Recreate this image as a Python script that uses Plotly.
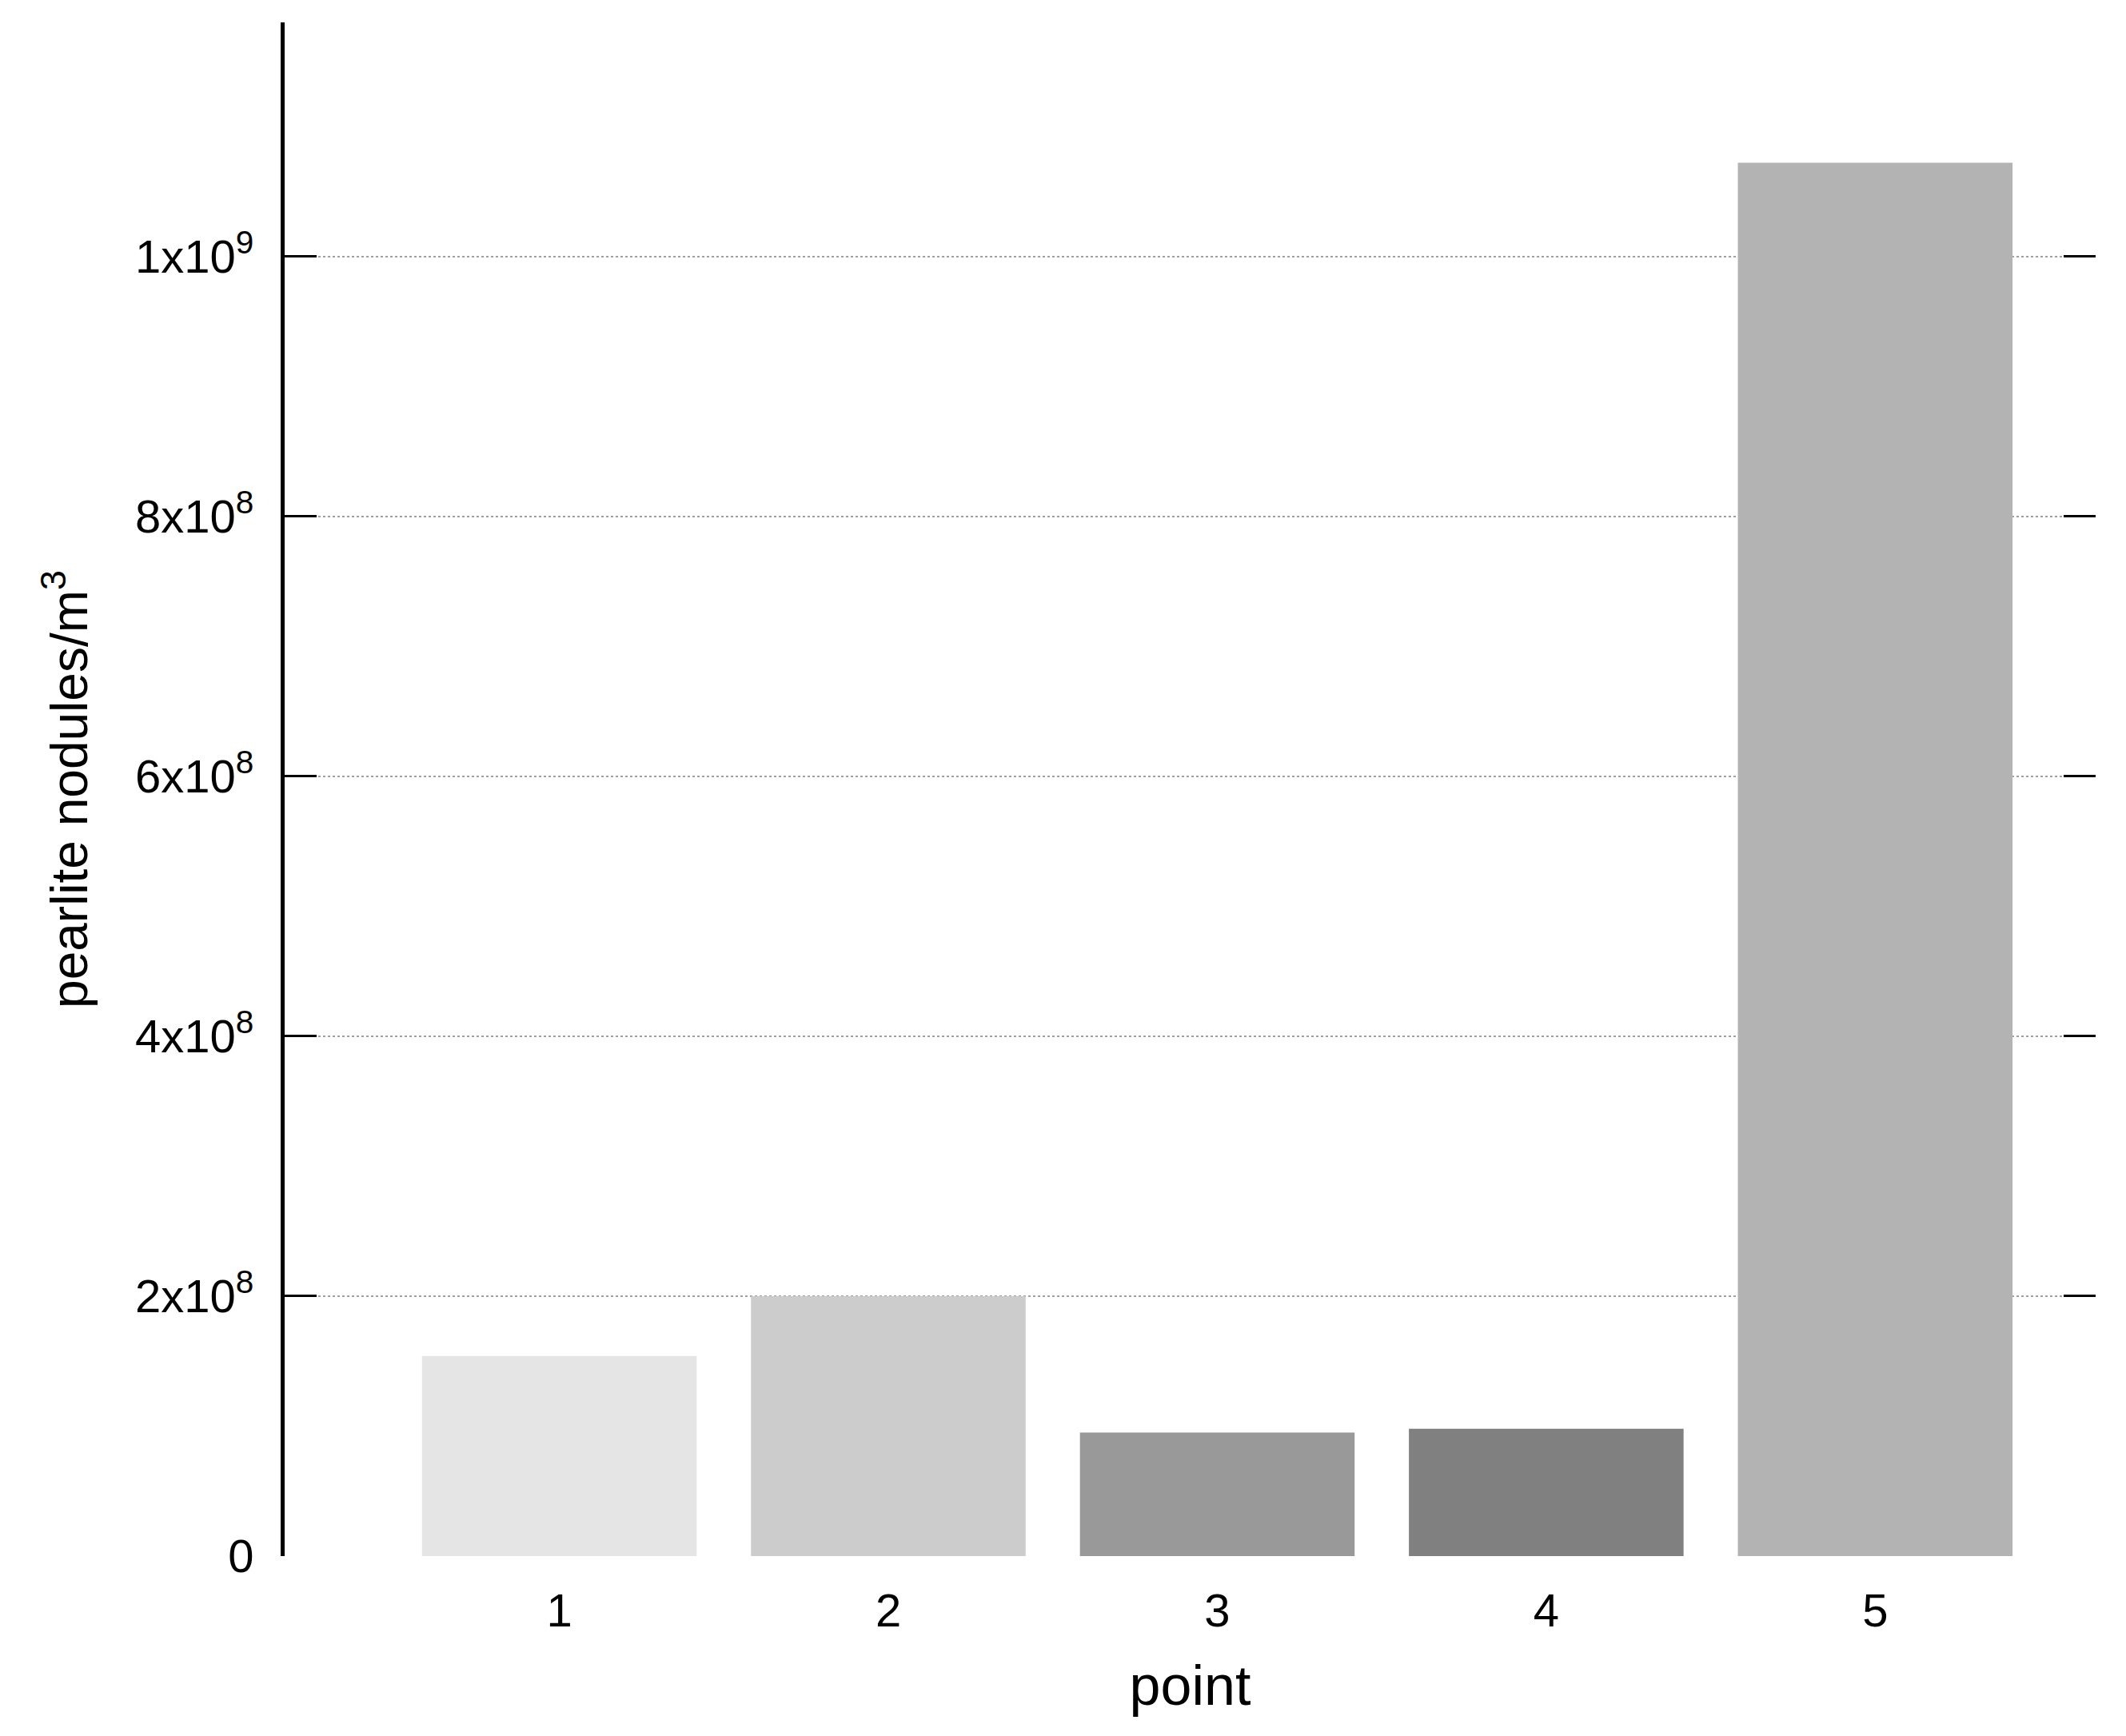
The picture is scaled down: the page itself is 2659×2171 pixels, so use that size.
# 棒グラフ: pearlite nodules per point
import plotly.graph_objects as go

points = [1, 2, 3, 4, 5]
nodules = [1.54e8, 2.0e8, 0.95e8, 0.98e8, 1.072e9]
bar_colors = ['#e5e5e5', '#cccccc', '#999999', '#808080', '#b3b3b3']

y_ticks = [0, 2e8, 4e8, 6e8, 8e8, 1e9]
y_tick_text = ['0', '2x10<sup>8</sup>', '4x10<sup>8</sup>', '6x10<sup>8</sup>',
               '8x10<sup>8</sup>', '1x10<sup>9</sup>']

fig = go.Figure()

fig.add_trace(
    go.Bar(x=points,
           y=nodules,
           width=0.835,
           marker=dict(color=bar_colors, line=dict(width=0)),
           showlegend=False)
)
# 右側の目盛り用（見えないトレース）
fig.add_trace(
    go.Scatter(x=points, y=nodules, yaxis='y2', mode='markers',
               marker=dict(opacity=0), showlegend=False, hoverinfo='skip')
)

font = dict(family='Liberation Sans, Arial, sans-serif', size=58, color='black')

fig.update_layout(
    width=2659, height=2171,
    margin=dict(l=348, r=46, t=20, b=233),
    plot_bgcolor='white', paper_bgcolor='white',
    font=font,
    xaxis=dict(range=[0.165, 5.67], tickvals=points, ticktext=[str(p) for p in points],
               showgrid=False, zeroline=False, showline=False,
               ticks='outside', ticklen=17, tickcolor='rgba(0,0,0,0)',
               title=dict(text='point', standoff=38)),
    yaxis=dict(range=[0, 1.18e9], tickvals=y_ticks, ticktext=y_tick_text,
               showgrid=True, gridcolor='#a0a0a0', gridwidth=2, griddash='dot',
               zeroline=False, showline=True, linecolor='black', linewidth=5,
               ticks='inside', ticklen=40, tickwidth=3, tickcolor='black',
               ticklabelstandoff=22,
               title=dict(text='pearlite nodules/m<sup>3</sup>', standoff=40,
                          font=dict(size=64))),
    yaxis2=dict(range=[0, 1.18e9], tickvals=y_ticks, overlaying='y', side='right',
                showgrid=False, zeroline=False, showline=False, showticklabels=False,
                ticks='inside', ticklen=40, tickwidth=3, tickcolor='black'),
)

fig.write_html("out.html")
